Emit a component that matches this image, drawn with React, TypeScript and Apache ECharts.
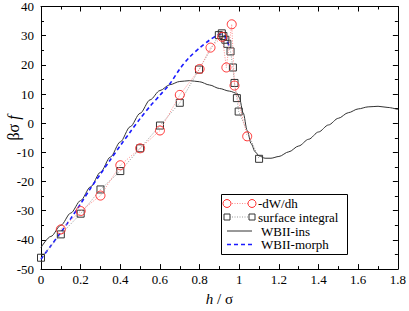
import React, { useEffect, useRef } from "react";
import * as echarts from "echarts";

// -dW/dh (red circles)
const circH = [0.1, 0.2, 0.3, 0.4, 0.5, 0.6, 0.7, 0.8, 0.855, 0.914, 0.935, 0.962, 0.976, 1.04];
const circV = [-36.4, -30.1, -24.8, -14.4, -8.6, -2.5, 9.7, 18.6, 25.9, 29.6, 19.1, 33.9, 12.9, -4.5];

// surface integral (squares)
const sqH = [0, 0.1, 0.2, 0.3, 0.4, 0.5, 0.6, 0.7, 0.797, 0.897, 0.912, 0.92, 0.93, 0.94, 0.956, 0.968, 0.976, 0.988, 0.997, 1.1];
const sqV = [-46.1, -38.1, -31, -22.7, -16.4, -8.6, -0.8, 7, 18.4, 30.2, 30.8, 29.9, 28.6, 27.2, 24.6, 19.1, 13.8, 8.6, 4, -12.2];

// WBII-ins (black solid)
const insH = [0, 0.05, 0.1, 0.15, 0.2, 0.25, 0.3, 0.35, 0.4, 0.45, 0.5, 0.55, 0.6, 0.65, 0.7, 0.75, 0.8, 0.85, 0.9, 0.95, 0.99, 1.0, 1.02, 1.04, 1.06, 1.08, 1.1, 1.13, 1.16, 1.2, 1.25, 1.3, 1.35, 1.4, 1.45, 1.5, 1.55, 1.6, 1.65, 1.7, 1.75, 1.8];
const insV = [-42.6, -38.8, -35, -30.8, -26.5, -21.8, -16.8, -11.6, -6.4, -1.2, 3.4, 8, 11.2, 13.2, 14.3, 14.6, 14.2, 13.1, 11.9, 11, 10.2, 8.8, 3.5, -2.5, -7, -9.8, -11.2, -12, -12, -11.4, -9.8, -7.8, -5.5, -3, -0.6, 1.7, 3.6, 4.9, 5.6, 5.8, 5.4, 4.7];

// WBII-morph (blue dashed)
const morH = [0, 0.05, 0.1, 0.15, 0.2, 0.25, 0.3, 0.35, 0.4, 0.45, 0.5, 0.55, 0.6, 0.65, 0.7, 0.75, 0.8, 0.85, 0.88, 0.9, 0.92, 0.94, 0.95];
const morV = [-46.6, -42, -37.4, -32.7, -27.6, -22.3, -17.4, -12.5, -7.7, -3, 1.6, 5.8, 9.6, 13.5, 18.6, 22.7, 25.8, 28.5, 29.8, 30.5, 30.3, 28, 26];

const xTicks = { min: 0, max: 1.8, interval: 0.2 };
const yTicks = { min: -50, max: 40, interval: 10 };

const legendItems = ["-dW/dh", "surface integral", "WBII-ins", "WBII-morph"];

const FONT = "'Liberation Serif', 'Times New Roman', serif";

function zip(a: number[], b: number[]) {
  return a.map((x, i) => [x, b[i]]);
}

export default function App() {
  const ref = useRef<HTMLDivElement>(null);
  useEffect(() => {
    if (!ref.current) return;
    const chart = echarts.init(ref.current, undefined, { renderer: "svg" });
    const tickCommon = {
      axisLine: { show: true, onZero: false, lineStyle: { color: "#000", width: 1 } },
      axisTick: { show: true, inside: true, length: 5, lineStyle: { color: "#000" } },
      minorTick: { show: true, splitNumber: 2, length: 3, lineStyle: { color: "#000" } },
      splitLine: { show: false },
      minorSplitLine: { show: false },
    };
    const legendX0 = 227;
    const legendX1 = 252;
    const rowsY = [203.5, 217, 231, 244.5];
    const graphic: any[] = [
      {
        type: "rect",
        shape: { x: 221.5, y: 194.5, width: 126, height: 60 },
        style: { fill: "#fff", stroke: "#000", lineWidth: 1 },
        z: 10,
      },
      { type: "line", shape: { x1: legendX0, y1: rowsY[0], x2: legendX1, y2: rowsY[0] }, style: { stroke: "#ff8a8a", lineWidth: 1, lineDash: [1, 1.5] }, z: 11 },
      { type: "circle", shape: { cx: legendX0, cy: rowsY[0], r: 4 }, style: { fill: "#fff", stroke: "#ff3030", lineWidth: 1 }, z: 12 },
      { type: "circle", shape: { cx: legendX1, cy: rowsY[0], r: 4 }, style: { fill: "#fff", stroke: "#ff3030", lineWidth: 1 }, z: 12 },
      { type: "line", shape: { x1: legendX0, y1: rowsY[1], x2: legendX1, y2: rowsY[1] }, style: { stroke: "#999", lineWidth: 1, lineDash: [1, 1.5] }, z: 11 },
      { type: "rect", shape: { x: legendX0 - 3, y: rowsY[1] - 3, width: 6, height: 6 }, style: { fill: "#fff", stroke: "#333", lineWidth: 1 }, z: 12 },
      { type: "rect", shape: { x: legendX1 - 3, y: rowsY[1] - 3, width: 6, height: 6 }, style: { fill: "#fff", stroke: "#333", lineWidth: 1 }, z: 12 },
      { type: "line", shape: { x1: legendX0, y1: rowsY[2], x2: legendX1, y2: rowsY[2] }, style: { stroke: "#333", lineWidth: 1 }, z: 11 },
      { type: "line", shape: { x1: legendX0, y1: rowsY[3], x2: legendX1, y2: rowsY[3] }, style: { stroke: "#1a1aff", lineWidth: 1.5, lineDash: [4, 3] }, z: 11 },
      ...legendItems.map((t, i) => ({
        type: "text",
        x: i < 2 ? 258 : 261,
        y: rowsY[i],
        style: { text: t, font: `13px ${FONT}`, fill: "#000", textVerticalAlign: "middle", textAlign: "left" },
        z: 12,
      })),
      {
        type: "text",
        x: 13,
        y: 128,
        rotation: Math.PI / 2,
        style: {
          text: "{a|βσ }{b|f}",
          textAlign: "center",
          textVerticalAlign: "middle",
          rich: {
            a: { fontFamily: FONT, fontSize: 16, fill: "#000", color: "#000" },
            b: { fontFamily: FONT, fontSize: 16, fontStyle: "italic", fill: "#000", color: "#000" },
          },
        },
      },
    ];

    chart.setOption({
      animation: false,
      backgroundColor: "#fff",
      grid: { left: 41, right: 9, top: 5, bottom: 28, containLabel: false },
      xAxis: [
        {
          type: "value",
          ...xTicks,
          position: "bottom",
          ...tickCommon,
          axisLabel: { show: true, margin: 4, color: "#000", fontFamily: FONT, fontSize: 13 },
          name: "{a|h}{b| / σ}",
          nameLocation: "middle",
          nameGap: 17,
          nameTextStyle: {
            rich: {
              a: { fontFamily: FONT, fontSize: 15, fontStyle: "italic", color: "#000" },
              b: { fontFamily: FONT, fontSize: 15, color: "#000" },
            },
          },
        },
        {
          type: "value",
          ...xTicks,
          position: "top",
          ...tickCommon,
          axisLabel: { show: false },
        },
      ],
      yAxis: [
        {
          type: "value",
          ...yTicks,
          position: "left",
          ...tickCommon,
          axisLabel: { show: true, margin: 7, color: "#000", fontFamily: FONT, fontSize: 13 },
        },
        {
          type: "value",
          ...yTicks,
          position: "right",
          ...tickCommon,
          axisLabel: { show: false },
        },
      ],
      graphic,
      series: [
        {
          type: "line",
          name: "WBII-ins",
          data: zip(insH, insV),
          showSymbol: false,
          symbol: "none",
          smooth: 0.3,
          smoothMonotone: "x",
          lineStyle: { color: "#333", width: 1 },
          z: 3,
        },
        {
          type: "line",
          name: "WBII-morph",
          data: zip(morH, morV),
          showSymbol: false,
          symbol: "none",
          smooth: 0.3,
          lineStyle: { color: "#1a1aff", width: 1.6, type: [4, 3] },
          z: 4,
        },
        {
          type: "line",
          name: "surface integral",
          data: zip(sqH, sqV),
          symbol: "rect",
          symbolSize: 7,
          lineStyle: { color: "#999", width: 1, type: [1, 1.5] },
          itemStyle: { color: "rgba(0,0,0,0)", borderColor: "#333", borderWidth: 1 },
          z: 5,
        },
        {
          type: "line",
          name: "-dW/dh",
          data: zip(circH, circV),
          symbol: "circle",
          symbolSize: 9,
          lineStyle: { color: "#ff8a8a", width: 1, type: [1, 1.5] },
          itemStyle: { color: "rgba(0,0,0,0)", borderColor: "#ff3030", borderWidth: 1 },
          z: 6,
        },
      ],
    });
    return () => chart.dispose();
  }, []);
  return <div ref={ref} style={{ width: 409, height: 311, position: "absolute", left: 0, top: 0 }} />;
}
